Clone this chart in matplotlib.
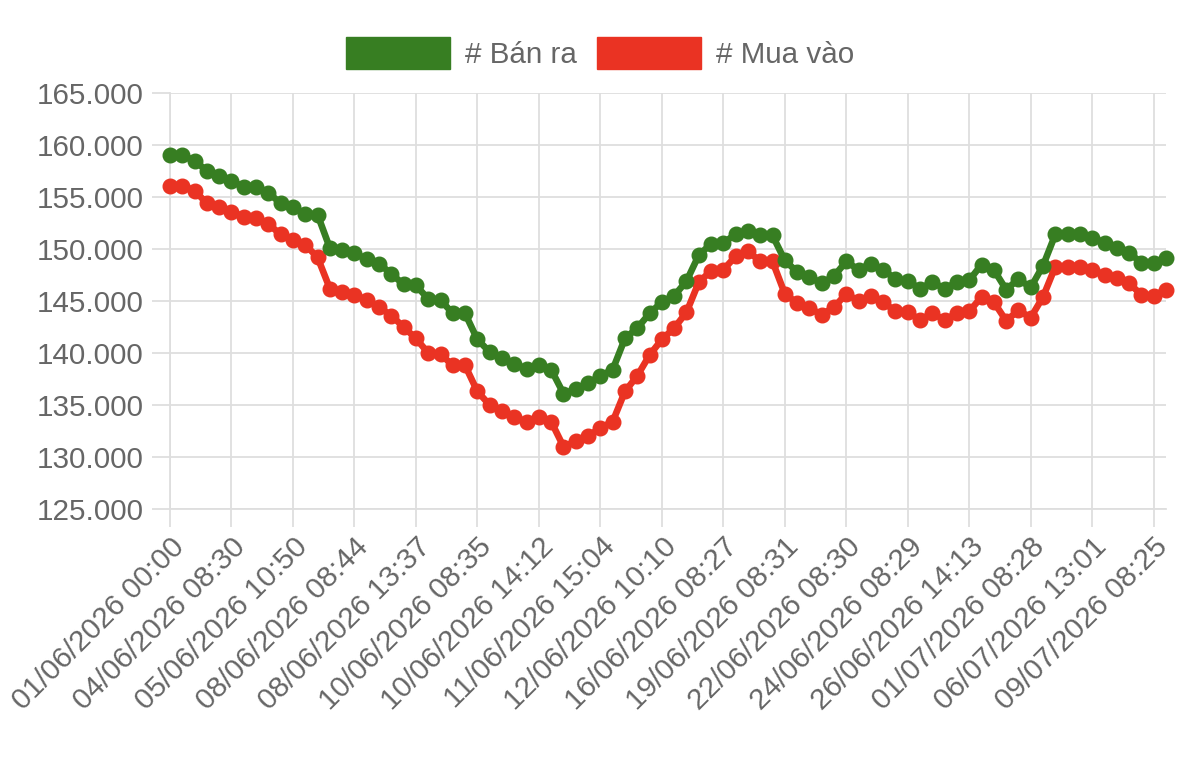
import matplotlib
matplotlib.use("Agg")
import matplotlib.pyplot as plt
from matplotlib.patches import Patch
from matplotlib.ticker import FuncFormatter, MultipleLocator

# Gia ban ra / mua vao (thousand units)
ban_ra = [159.0, 159.0, 158.5, 157.5, 157.0, 156.5, 156.0, 156.0, 155.4, 154.4,
          154.0, 153.4, 153.3, 150.1, 149.9, 149.6, 149.0, 148.6, 147.6, 146.6,
          146.5, 145.2, 145.1, 143.8, 143.8, 141.3, 140.1, 139.5, 138.9, 138.5,
          138.8, 138.4, 136.1, 136.5, 137.1, 137.8, 138.4, 141.4, 142.4, 143.8,
          144.9, 145.5, 146.9, 149.4, 150.5, 150.6, 151.4, 151.7, 151.3, 151.3,
          148.9, 147.8, 147.3, 146.7, 147.4, 148.8, 148.0, 148.6, 148.0, 147.1,
          146.9, 146.2, 146.8, 146.2, 146.8, 147.0, 148.5, 148.0, 146.1, 147.1,
          146.3, 148.4, 151.4, 151.4, 151.4, 151.1, 150.6, 150.1, 149.6, 148.7,
          148.7, 149.1]
mua_vao = [156.1, 156.1, 155.6, 154.4, 154.0, 153.6, 153.1, 153.0, 152.4, 151.4,
           150.9, 150.4, 149.2, 146.2, 145.9, 145.6, 145.1, 144.4, 143.6, 142.5,
           141.4, 140.0, 139.9, 138.8, 138.8, 136.3, 135.0, 134.4, 133.8, 133.4,
           133.8, 133.4, 131.0, 131.5, 132.0, 132.8, 133.4, 136.3, 137.8, 139.8,
           141.3, 142.4, 143.9, 146.8, 147.9, 148.0, 149.3, 149.8, 148.8, 148.8,
           145.7, 144.8, 144.3, 143.7, 144.4, 145.7, 145.0, 145.5, 144.9, 144.0,
           143.9, 143.2, 143.8, 143.2, 143.8, 144.0, 145.4, 144.9, 143.1, 144.1,
           143.4, 145.4, 148.3, 148.3, 148.3, 148.0, 147.5, 147.2, 146.7, 145.6,
           145.5, 146.1]
ban_ra = [v * 1000 for v in ban_ra]
mua_vao = [v * 1000 for v in mua_vao]

tick_labels = ['01/06/2026 00:00', '04/06/2026 08:30', '05/06/2026 10:50',
               '08/06/2026 08:44', '08/06/2026 13:37', '10/06/2026 08:35',
               '10/06/2026 14:12', '11/06/2026 15:04', '12/06/2026 10:10',
               '16/06/2026 08:27', '19/06/2026 08:31', '22/06/2026 08:30',
               '24/06/2026 08:29', '26/06/2026 14:13', '01/07/2026 08:28',
               '06/07/2026 13:01', '09/07/2026 08:25']
tick_step = 5

green = '#377e22'
red = '#ea3323'
grid_c = '#dedede'
text_c = '#666666'
fs = 21.3

plt.rcParams['font.family'] = ['Liberation Sans', 'DejaVu Sans']

fig = plt.figure(figsize=(12, 7.57), dpi=100)
ax = fig.add_axes([170 / 1200, 1 - 509 / 757, (1166 - 170) / 1200, (509 - 93) / 757])

x = list(range(len(ban_ra)))
ax.plot(x, mua_vao, color=red, lw=4.8, marker='o', ms=10.5, zorder=3, clip_on=False)
ax.plot(x, ban_ra, color=green, lw=4.8, marker='o', ms=10.5, zorder=4, clip_on=False)

ax.set_xlim(0, len(ban_ra) - 1)
ax.set_ylim(125000, 165000)
ax.yaxis.set_major_locator(MultipleLocator(5000))
ax.yaxis.set_major_formatter(FuncFormatter(lambda v, p: f"{int(v):,}".replace(',', '.')))

ax.set_xticks([i * tick_step for i in range(len(tick_labels))])
ax.set_xticklabels(tick_labels, rotation=45, ha='right', va='top', rotation_mode='anchor')

ax.grid(True, color=grid_c, lw=1.3, zorder=0)
ax.set_axisbelow(True)
for s in ['top', 'right']:
    ax.spines[s].set_visible(False)
for s in ['left', 'bottom']:
    ax.spines[s].set_color(grid_c)
    ax.spines[s].set_linewidth(1.3)
ax.tick_params(axis='both', colors=grid_c, length=13, width=1.3, labelcolor=text_c, labelsize=fs)
ax.tick_params(axis='y', pad=6)
ax.tick_params(axis='x', pad=4)

handles = [Patch(facecolor=green, edgecolor=green, label='# Bán ra'),
           Patch(facecolor=red, edgecolor=red, label='# Mua vào')]
fig.legend(handles=handles, loc='center', bbox_to_anchor=(0.5, 1 - 53 / 757), ncol=2,
           frameon=False, fontsize=fs, labelcolor=text_c, handlelength=3.5,
           handleheight=1.3, handletextpad=0.5, columnspacing=0.7)

plt.savefig('out.png', dpi=100)
